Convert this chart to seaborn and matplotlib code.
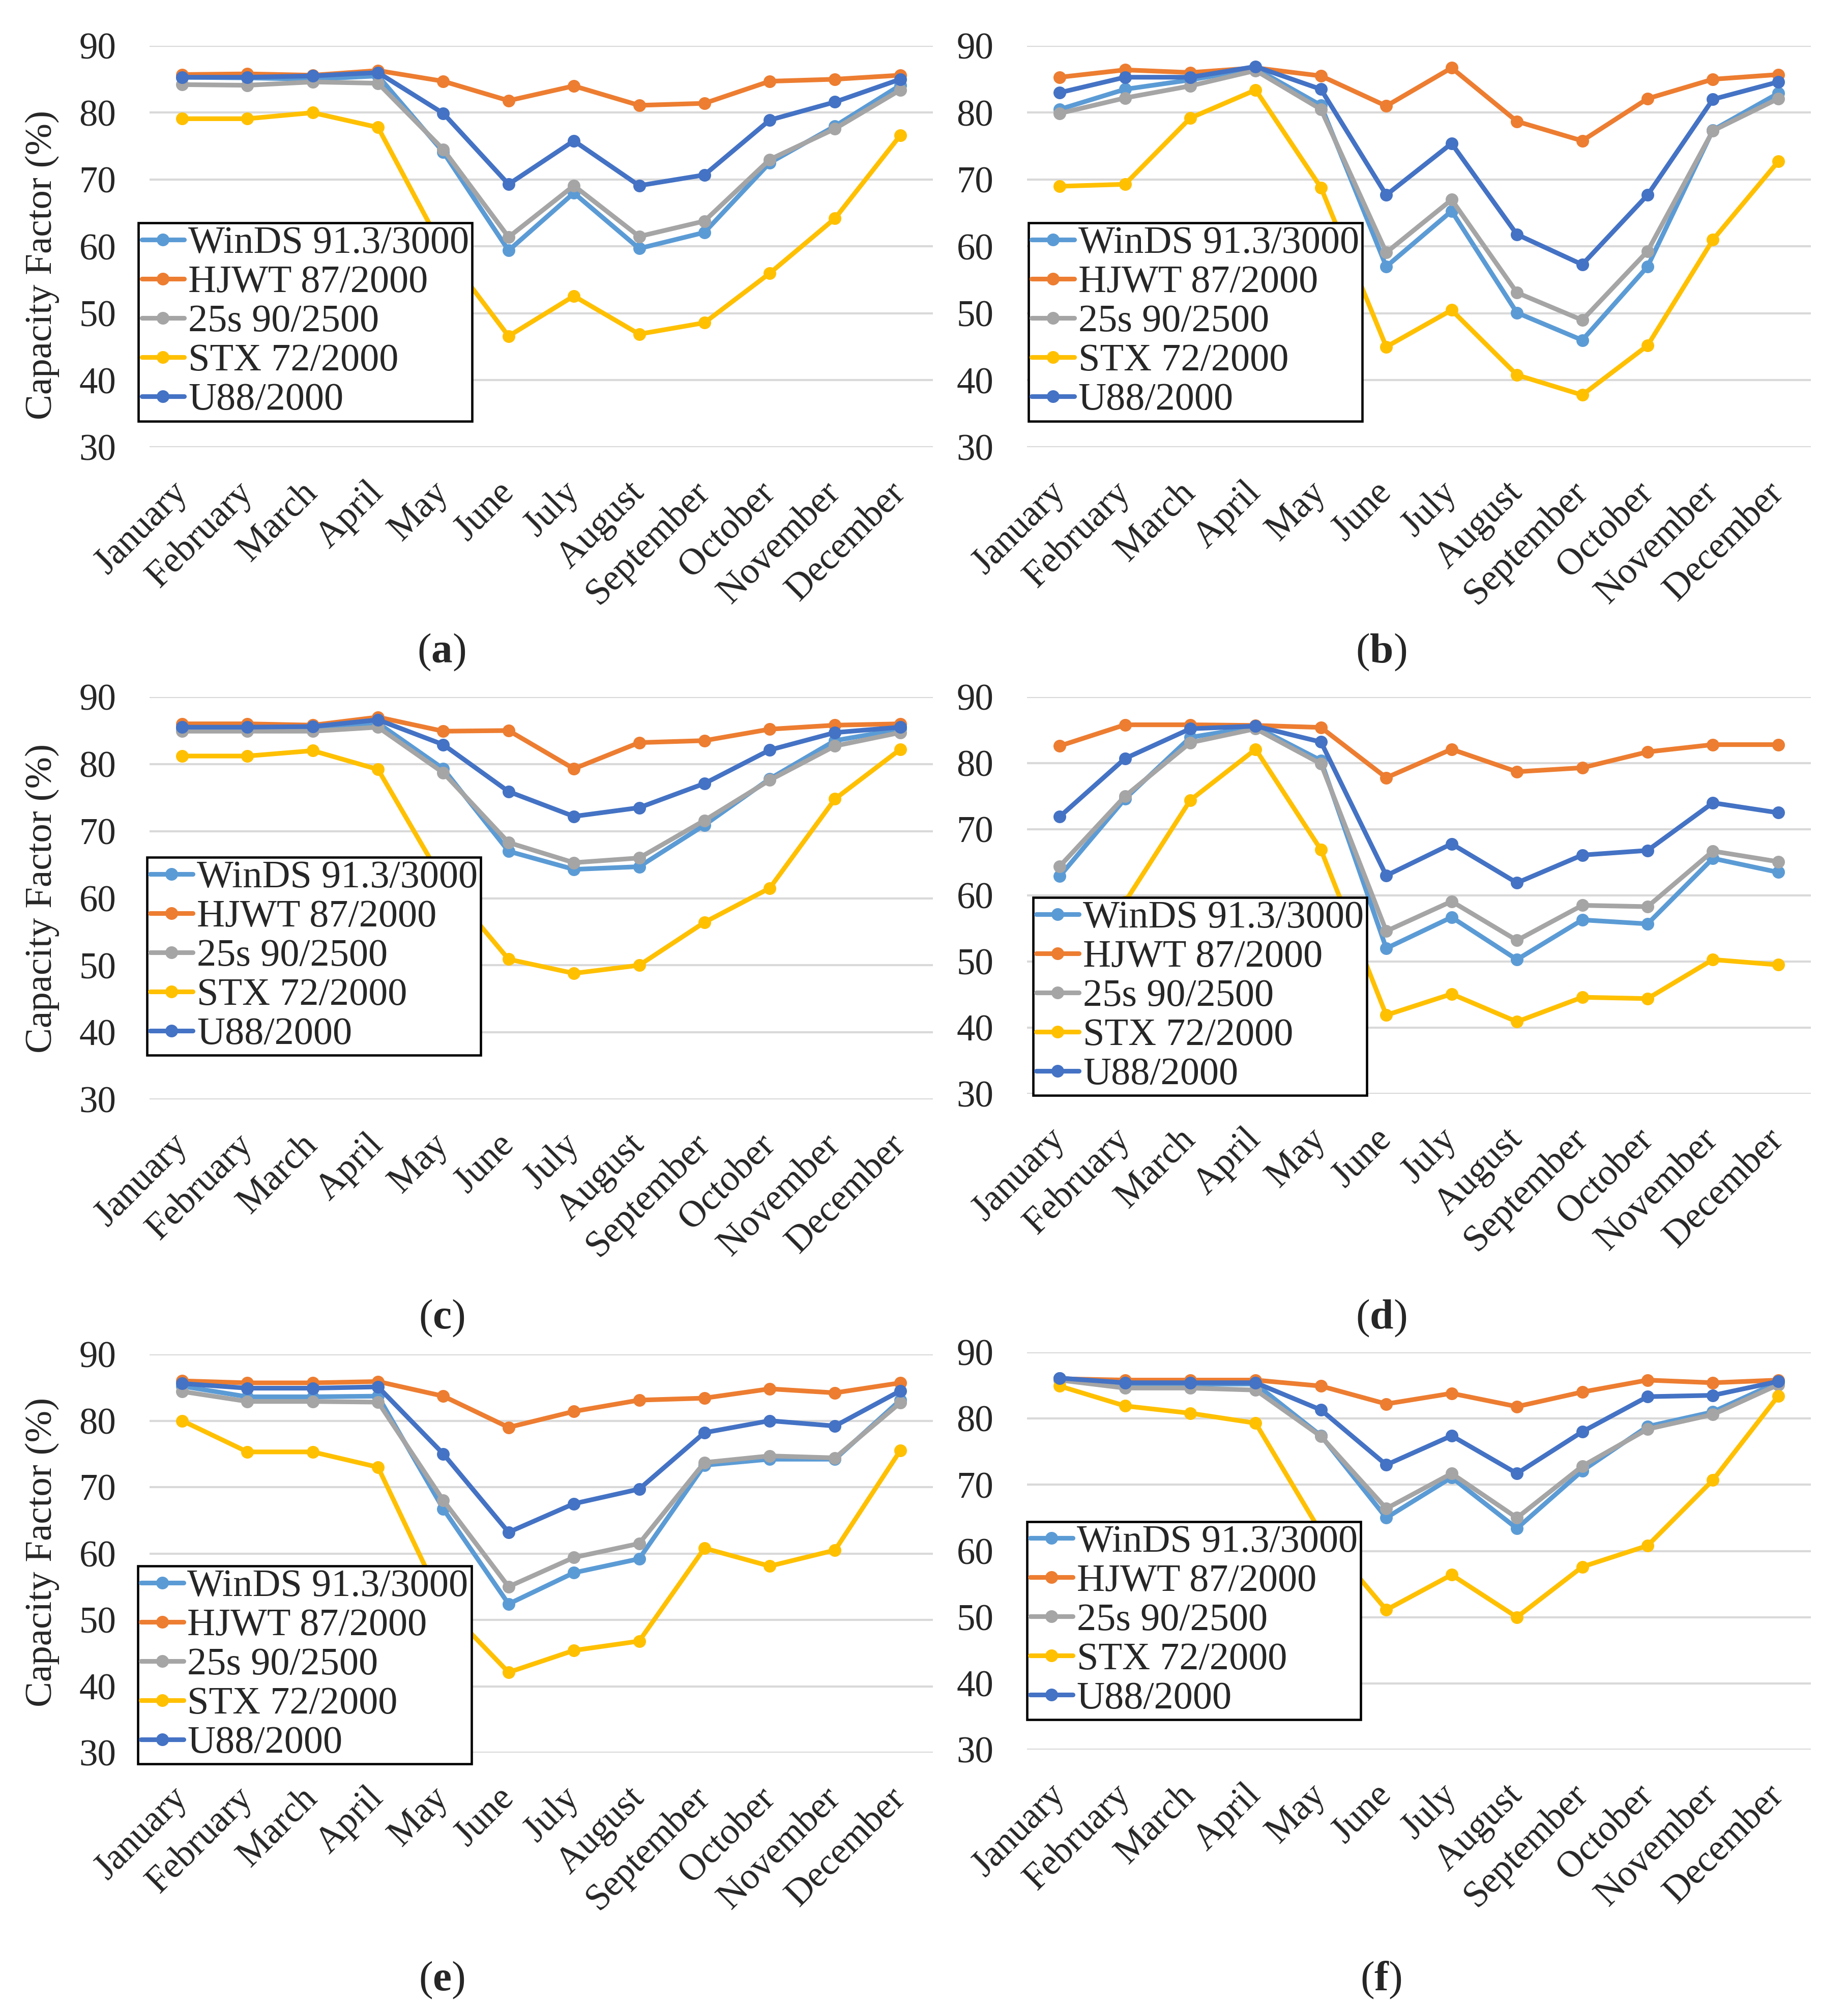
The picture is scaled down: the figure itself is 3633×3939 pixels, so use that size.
import numpy as np
import pandas as pd
import matplotlib
matplotlib.use("Agg")
import matplotlib.pyplot as plt
from matplotlib.lines import Line2D
import seaborn as sns

months = ["January", "February", "March", "April", "May", "June", "July",
          "August", "September", "October", "November", "December"]
turbines = ["WinDS 91.3/3000", "HJWT 87/2000", "25s 90/2500", "STX 72/2000", "U88/2000"]
colors = ["#5B9BD5", "#ED7D31", "#A5A5A5", "#FFC000", "#4472C4"]

# (a)
a_winds = [85.3, 85.2, 85.0, 85.5, 74.1, 59.4, 68.0, 59.7, 62.1, 72.5, 78.0, 84.1]
a_hjwt = [85.7, 85.8, 85.6, 86.3, 84.7, 81.8, 84.0, 81.1, 81.4, 84.7, 85.0, 85.6]
a_25s = [84.2, 84.1, 84.6, 84.4, 74.5, 61.4, 69.1, 61.5, 63.8, 73.0, 77.6, 83.4]
a_stx = [79.1, 79.1, 80.0, 77.8, 59.5, 46.6, 52.6, 46.9, 48.6, 56.0, 64.2, 76.6]
a_u88 = [85.3, 85.3, 85.5, 86.0, 79.9, 69.3, 75.8, 69.1, 70.7, 78.9, 81.6, 85.0]

# (b)
b_winds = [80.5, 83.5, 84.9, 86.6, 81.1, 57.0, 65.3, 50.1, 46.0, 57.0, 77.4, 82.9]
b_hjwt = [85.3, 86.4, 86.0, 86.7, 85.5, 81.0, 86.7, 78.7, 75.8, 82.1, 85.0, 85.7]
b_25s = [79.9, 82.2, 84.0, 86.3, 80.5, 59.1, 67.0, 53.1, 49.0, 59.3, 77.3, 82.1]
b_stx = [69.0, 69.3, 79.2, 83.4, 68.8, 45.0, 50.5, 40.8, 37.8, 45.2, 61.0, 72.7]
b_u88 = [83.0, 85.3, 85.3, 86.9, 83.5, 67.7, 75.4, 61.8, 57.3, 67.7, 82.0, 84.6]

# (c)
c_winds = [85.3, 85.3, 85.3, 86.1, 79.3, 67.0, 64.3, 64.7, 70.9, 77.8, 83.5, 85.2]
c_hjwt = [86.0, 86.0, 85.8, 87.0, 84.9, 85.0, 79.3, 83.2, 83.5, 85.2, 85.8, 86.0]
c_25s = [84.9, 84.9, 84.9, 85.5, 78.7, 68.3, 65.3, 66.0, 71.6, 77.6, 82.7, 84.7]
c_stx = [81.2, 81.2, 82.0, 79.2, 62.5, 50.9, 48.8, 50.0, 56.4, 61.5, 74.8, 82.2]
c_u88 = [85.5, 85.5, 85.6, 86.6, 82.9, 75.9, 72.2, 73.5, 77.1, 82.1, 84.7, 85.5]

# (d)
d_winds = [62.9, 74.6, 83.9, 85.5, 80.4, 52.0, 56.7, 50.3, 56.3, 55.7, 65.6, 63.5]
d_hjwt = [82.6, 85.8, 85.8, 85.7, 85.4, 77.8, 82.1, 78.7, 79.3, 81.7, 82.8, 82.8]
d_25s = [64.4, 75.0, 83.1, 85.2, 79.9, 54.6, 59.1, 53.2, 58.5, 58.3, 66.7, 65.1]
d_stx = [52.0, 59.0, 74.4, 82.1, 66.9, 41.9, 45.1, 40.9, 44.6, 44.4, 50.3, 49.5]
d_u88 = [71.9, 80.7, 85.2, 85.6, 83.2, 63.0, 67.8, 61.9, 66.1, 66.8, 74.0, 72.5]

# (e)
e_winds = [85.2, 83.6, 83.6, 83.7, 66.7, 52.4, 57.1, 59.2, 73.3, 74.2, 74.2, 83.1]
e_hjwt = [86.0, 85.7, 85.7, 85.9, 83.7, 79.0, 81.4, 83.1, 83.4, 84.8, 84.2, 85.7]
e_25s = [84.4, 82.9, 82.9, 82.8, 68.0, 55.0, 59.4, 61.5, 73.7, 74.7, 74.4, 82.7]
e_stx = [80.0, 75.3, 75.3, 73.0, 52.3, 42.1, 45.4, 46.8, 60.8, 58.1, 60.5, 75.5]
e_u88 = [85.6, 84.9, 84.9, 85.1, 75.0, 63.2, 67.5, 69.7, 78.2, 80.0, 79.2, 84.5]

# (f)
f_winds = [86.1, 85.2, 85.2, 85.2, 77.4, 65.0, 71.1, 63.4, 72.1, 78.8, 81.0, 85.5]
f_hjwt = [86.0, 85.8, 85.8, 85.8, 84.9, 82.2, 83.8, 81.8, 84.0, 85.8, 85.4, 85.8]
f_25s = [85.8, 84.6, 84.6, 84.3, 77.3, 66.4, 71.7, 65.0, 72.8, 78.4, 80.6, 85.1]
f_stx = [84.9, 81.9, 80.8, 79.3, 62.8, 51.1, 56.4, 50.0, 57.6, 60.8, 70.7, 83.4]
f_u88 = [86.1, 85.4, 85.4, 85.4, 81.3, 73.0, 77.4, 71.7, 78.0, 83.3, 83.5, 85.6]

panels = {
    "a": [a_winds, a_hjwt, a_25s, a_stx, a_u88],
    "b": [b_winds, b_hjwt, b_25s, b_stx, b_u88],
    "c": [c_winds, c_hjwt, c_25s, c_stx, c_u88],
    "d": [d_winds, d_hjwt, d_25s, d_stx, d_u88],
    "e": [e_winds, e_hjwt, e_25s, e_stx, e_u88],
    "f": [f_winds, f_hjwt, f_25s, f_stx, f_u88],
}

sns.set_theme(style="whitegrid")
plt.rcParams["font.family"] = "serif"
plt.rcParams["font.serif"] = ["Liberation Serif", "DejaVu Serif"]
plt.rcParams["mathtext.fontset"] = "custom"
plt.rcParams["mathtext.rm"] = "Liberation Serif"
plt.rcParams["mathtext.bf"] = "Liberation Serif:bold"

W, H = 3633, 3939
fig = plt.figure(figsize=(W / 300, H / 300), dpi=300)

# axes boxes in pixels: left, right, top(90), bottom(30)
boxes = {
    "a": (294, 1834, 90, 879), "b": (2019, 3560, 90, 879),
    "c": (294, 1834, 1370, 2161), "d": (2019, 3560, 1370, 2150),
    "e": (294, 1834, 2662, 3445), "f": (2019, 3560, 2658, 3439),
}
legend_pos = {"a": (-0.014, 0.559), "b": (0.002, 0.559), "c": (-0.003, 0.602),
              "d": (0.008, 0.495), "e": (-0.015, 0.469), "f": (0.0, 0.574)}
ylabel_y = {"a": 0.454, "c": 0.50, "e": 0.503}
captions = {"a": (868, 1282), "b": (2715, 1282), "c": (868, 2591),
            "d": (2715, 2591), "e": (868, 3892), "f": (2715, 3892)}

lw = 2.2
ms = 6

for key, vals in panels.items():
    l, r, t, b = boxes[key]
    ax = fig.add_axes([l / W, 1 - b / H, (r - l) / W, (b - t) / H])
    df = pd.DataFrame({
        "m": np.tile(np.arange(12), len(turbines)),
        "cf": np.concatenate(vals),
        "turbine": np.repeat(turbines, 12),
    })
    sns.lineplot(data=df, x="m", y="cf", hue="turbine", hue_order=turbines,
                 palette=colors, marker="o", markersize=ms, markeredgewidth=0,
                 linewidth=lw, legend=False, ax=ax)
    ax.set_xlim(-0.5, 11.5)
    ax.set_ylim(30, 90)
    ax.set_yticks(range(30, 91, 10))
    ax.set_xticks(range(12))
    ax.set_xticklabels(months, rotation=45, ha="right", va="center",
                       rotation_mode="anchor")
    ax.tick_params(axis="x", length=0, pad=19, labelsize=17.5)
    ax.tick_params(axis="y", length=0, pad=15.8, labelsize=17.5)
    ax.grid(axis="y", color="#D9D9D9", linewidth=1.0)
    ax.grid(axis="x", visible=False)
    for s in ax.spines.values():
        s.set_visible(False)
    ax.set_xlabel("")
    if key in ylabel_y:
        ax.set_ylabel("Capacity Factor (%)", fontsize=18)
        ax.yaxis.set_label_coords(-0.115, ylabel_y[key])
    else:
        ax.set_ylabel("")

    handles = [Line2D([0], [0], color=c, lw=lw, marker="o", ms=ms, mew=0)
               for c in colors]
    leg = ax.legend(handles, turbines, loc="upper left",
                    bbox_to_anchor=legend_pos[key], bbox_transform=ax.transAxes,
                    frameon=True, fancybox=False, edgecolor="black", framealpha=1,
                    fontsize=18.3, borderpad=0.08, labelspacing=0.1,
                    handlelength=1.1, handletextpad=0.1, borderaxespad=0)
    leg.get_frame().set_linewidth(1.1)

    cx, cy = captions[key]
    fig.text(cx / W, 1 - cy / H, r"($\mathbf{" + key + r"}$)", ha="center",
             va="center", fontsize=20)

fig.savefig("out.png", dpi=300)
